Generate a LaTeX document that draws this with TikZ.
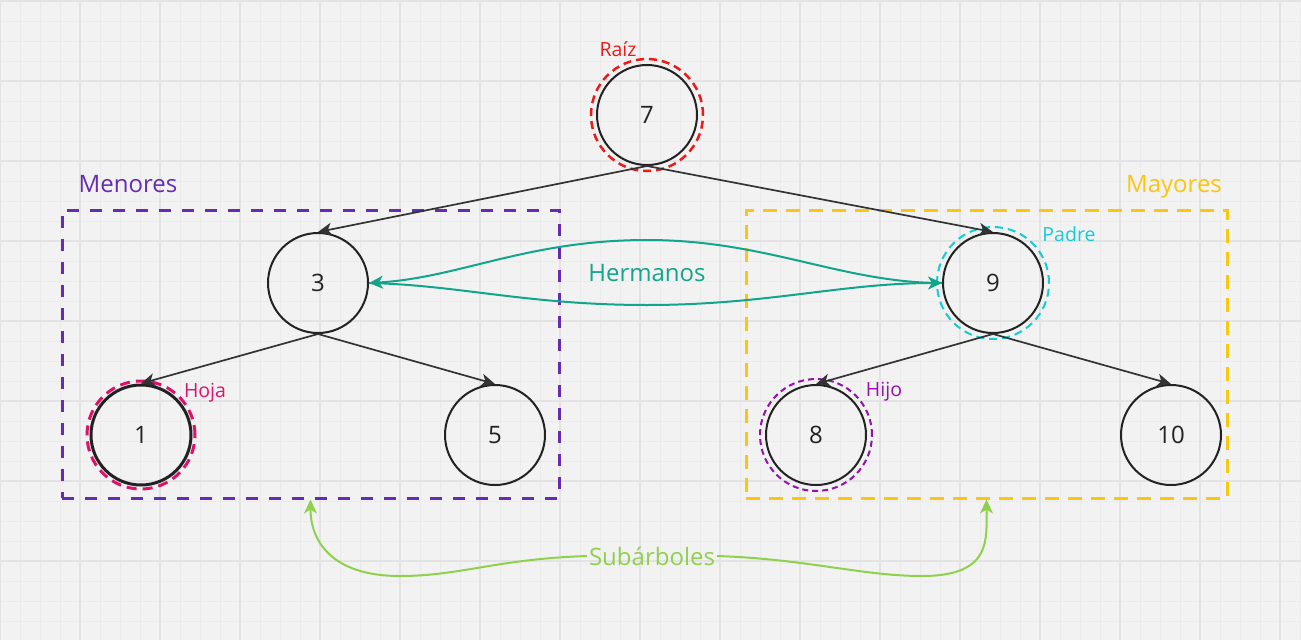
\documentclass[tikz,border=0pt]{standalone}
\usepackage{fontspec}
\setmainfont{Open Sans}
\usetikzlibrary{arrows.meta}
\definecolor{bgc}{HTML}{F2F2F2}
\definecolor{gminor}{HTML}{EBEBEB}
\definecolor{gmajor}{HTML}{E3E3E3}
\definecolor{ink}{HTML}{222222}
\definecolor{edgec}{HTML}{333333}
\definecolor{rootred}{HTML}{EE1A1A}
\definecolor{leafpink}{HTML}{E0116A}
\definecolor{padrecyan}{HTML}{12CDD4}
\definecolor{hijopurple}{HTML}{9510AC}
\definecolor{menviolet}{HTML}{652CB3}
\definecolor{mayyellow}{HTML}{FAC710}
\definecolor{hermteal}{HTML}{12A58A}
\definecolor{subgreen}{HTML}{8FD14F}
\begin{document}
\begin{tikzpicture}[x=1pt,y=-1pt,
  big/.style={font=\fontsize{24}{28}\selectfont},
  small/.style={font=\fontsize{19.5}{23}\selectfont},
  tnode/.style={circle,draw=ink,line width=2pt,minimum size=100pt,inner sep=0pt,text=ink,big},
  edge/.style={draw=edgec,line width=1.7pt,-{Stealth[length=14pt,width=13pt,inset=4pt]}},
  herm/.style={draw=hermteal,line width=2pt,-{Stealth[length=14pt,width=13pt,inset=4pt]}},
  subarr/.style={draw=subgreen,line width=2pt,-{Stealth[length=14pt,width=13pt,inset=4pt]}},
  box/.style={draw,line width=3pt,inner sep=0pt,minimum width=497pt,minimum height=288pt}
]
\fill[bgc] (0,0) rectangle (1301,640);
\useasboundingbox (0,0) rectangle (1301,640);
\foreach \x in {20,40,...,1300} \draw[gminor,line width=1pt] (\x,0) -- (\x,640);
\foreach \y in {21,41,...,640} \draw[gminor,line width=1pt] (0,\y) -- (1301,\y);
\foreach \x in {0,80,...,1300} \draw[gmajor,line width=1.5pt] (\x,0) -- (\x,640);
\foreach \y in {1,81,...,640} \draw[gmajor,line width=1.5pt] (0,\y) -- (1301,\y);

% subtree boxes
\node[box,draw=menviolet,dash pattern=on 12pt off 11pt] (boxL) at (310.5,354) {};
\node[box,draw=mayyellow,dash pattern=on 14pt off 9pt,minimum width=481pt] (boxR) at (986.5,354) {};
\node[text=menviolet,big,anchor=base] (lmen) at (128,192) {Menores};
\node[text=mayyellow,big,anchor=base] (lmay) at (1174,192) {Mayores};

% tree nodes
\node[tnode] (n7) at (647,115) {7};
\node[tnode] (n3) at (318,283) {3};
\node[tnode] (n9) at (993,283) {9};
\node[tnode,line width=3pt] (n1) at (141,435) {1};
\node[tnode] (n5) at (495,435) {5};
\node[tnode] (n8) at (816,435) {8};
\node[tnode] (n10) at (1171,435) {10};

% highlight rings
\draw[rootred,line width=2.5pt,dash pattern=on 8pt off 5pt] (n7.center) circle[radius=56pt];
\draw[leafpink,line width=3pt,dash pattern=on 10pt off 6pt] (n1.center) circle[radius=54pt];
\draw[padrecyan,line width=2pt,dash pattern=on 8pt off 5pt] (n9.center) circle[radius=56pt];
\draw[hijopurple,line width=2pt,dash pattern=on 6pt off 4pt] (n8.center) circle[radius=56pt];

% labels
\node[text=rootred,small,anchor=base] (lraiz) at (618,56) {Raíz};
\node[text=leafpink,small,anchor=base] (lhoja) at (205,397) {Hoja};
\node[text=padrecyan,small,anchor=base] (lpadre) at (1069,241) {Padre};
\node[text=hijopurple,small,anchor=base] (lhijo) at (884,396) {Hijo};

% edges
\draw[edge] (n7.south) -- (n3.north);
\draw[edge] (n7.south) -- (n9.north);
\draw[edge] (n3.south) -- (n1.north);
\draw[edge] (n3.south) -- (n5.north);
\draw[edge] (n9.south) -- (n8.north);
\draw[edge] (n9.south) -- (n10.north);

% hermanos
\node[text=hermteal,big] (lherm) at (647,273) {Hermanos};
\draw[herm] (n9.west) .. controls +(-100,0) and +(120,0) .. (647,240)
            .. controls +(-120,0) and +(90,-5) .. (n3.east);
\draw[herm] (n3.east) .. controls +(90,2) and +(-120,0) .. (647,305)
            .. controls +(120,0) and +(-100,0) .. (n9.west);

% subarboles
\node[text=subgreen,big,inner sep=2pt] (lsub) at (652,556) {Subárboles};
\draw[subarr] (lsub.west) .. controls +(-90,3) and +(60,0) .. (400,576)
              .. controls +(-70,0) and +(0,40) .. (boxL.south);
\draw[subarr] (lsub.east) .. controls +(90,3) and +(-60,0) .. (922,576)
              .. controls +(70,0) and +(0,40) .. (boxR.south);
\end{tikzpicture}
\end{document}
